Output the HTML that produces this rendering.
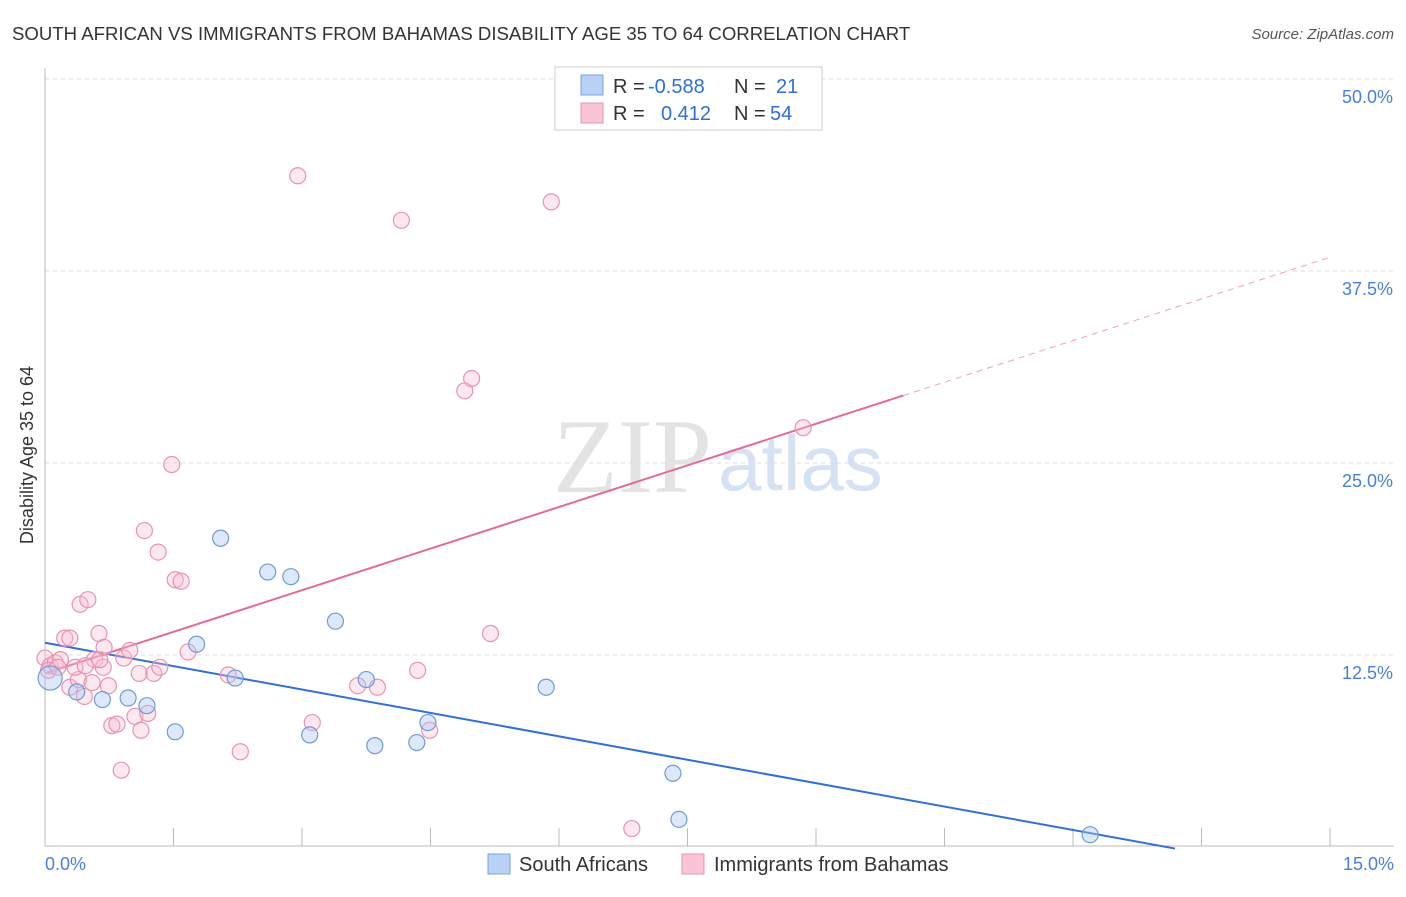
<!DOCTYPE html>
<html><head><meta charset="utf-8"><style>
body{margin:0;background:#fff;font-family:"Liberation Sans",sans-serif}
</style></head><body>
<svg width="1406" height="892" xmlns="http://www.w3.org/2000/svg" font-family="Liberation Sans, sans-serif">
<text x="12" y="40" font-size="18.6" fill="#333">SOUTH AFRICAN VS IMMIGRANTS FROM BAHAMAS DISABILITY AGE 35 TO 64 CORRELATION CHART</text>
<text x="1394" y="39" font-size="15" fill="#555" text-anchor="end" font-style="italic">Source: ZipAtlas.com</text>
<g id="grid"></g>
<g id="axes"></g>
<text x="553" y="492" font-size="106" fill="#e3e3e3" font-family="Liberation Serif, serif">ZIP</text>
<text x="718" y="490" font-size="78" fill="#d6e2f3">atlas</text>
<text transform="translate(33,455) rotate(-90)" font-size="18" fill="#333" text-anchor="middle">Disability Age 35 to 64</text>
<g id="lines"></g>
<g id="pts"></g>
<g>
<rect x="555" y="67" width="267" height="63" fill="#fff" stroke="#ccc"/>
<rect x="581" y="75" width="22" height="20" fill="#b8d1f5" stroke="#7aa3e0"/>
<rect x="581" y="103" width="22" height="20" fill="#f9c5d6" stroke="#e993b0"/>
<text x="613" y="93" font-size="20" fill="#333">R = <tspan x="648" fill="#2f6fd6">-0.588</tspan><tspan x="734">N = </tspan><tspan x="776" fill="#2f6fd6">21</tspan></text>
<text x="613" y="120" font-size="20" fill="#333">R = <tspan x="661" fill="#2f6fd6">0.412</tspan><tspan x="734">N = </tspan><tspan x="770" fill="#2f6fd6">54</tspan></text>
</g>
<g>
<rect x="488" y="854" width="22" height="20" fill="#b8d1f5" stroke="#7aa3e0"/>
<text x="519" y="871" font-size="20" fill="#333">South Africans</text>
<rect x="682" y="854" width="22" height="20" fill="#f9c5d6" stroke="#e993b0"/>
<text x="714" y="871" font-size="20" fill="#333">Immigrants from Bahamas</text>
</g>
</svg>
<script>
const yTicks=[12.5,25,37.5,50];
const yTickLabels=["12.5%","25.0%","37.5%","50.0%"];
const xTickCount=10;
const xTickLabels=["0.0%","15.0%"];
const blueX=[0.06,0.37,0.67,0.97,1.19,1.52,1.77,2.05,2.22,2.60,2.87,3.39,3.09,3.75,3.85,4.34,4.47,5.85,7.33,7.40,12.20];
const blueY=[11.0,10.1,9.6,9.7,9.2,7.5,13.2,20.1,11.0,17.9,17.6,14.7,7.3,10.9,6.6,6.8,8.1,10.4,4.8,1.8,0.8];
const pinkX=[0.0,0.06,0.12,0.18,0.04,0.23,0.29,0.29,0.39,0.41,0.46,0.50,0.55,0.58,0.63,0.68,0.64,0.74,0.69,0.78,0.84,0.89,0.92,0.99,1.05,1.12,1.10,1.16,1.27,1.32,1.34,1.20,1.48,1.52,1.59,1.67,2.14,2.28,2.95,3.12,3.65,3.88,4.16,4.35,4.49,4.90,4.98,5.20,5.91,6.85,8.85,0.35,0.47,0.15];
const pinkY=[12.3,11.8,12.0,12.2,11.5,13.6,13.6,10.4,10.9,15.8,9.8,16.1,10.7,12.2,13.9,11.7,12.2,10.5,13.0,7.9,8.0,5.0,12.3,12.8,8.5,7.6,11.3,20.6,11.3,19.2,11.7,8.7,24.9,17.4,17.3,12.7,11.2,6.2,43.7,8.1,10.5,10.4,40.8,11.5,7.6,29.7,30.5,13.9,42.0,1.2,27.3,11.7,11.8,11.7];
const blueTrend=[13.3,-1.016];
const pinkTrend=[11.3,1.806];
const pinkSolidEnd=10.02;
const X=v=>45+v/15*1285, Y=v=>847-v/12.5*192;
const NS="http://www.w3.org/2000/svg";
function mk(t,a,p){const e=document.createElementNS(NS,t);for(const k in a)e.setAttribute(k,a[k]);p.appendChild(e);return e;}
const grid=document.getElementById('grid'),axes=document.getElementById('axes'),lines=document.getElementById('lines'),pts=document.getElementById('pts');
yTicks.forEach((v,i)=>{
 const l=mk('line',{x1:45,x2:1394,y1:Y(v),y2:Y(v),stroke:'#ddd','stroke-dasharray':'4,4'},grid);
 
 
 const t=mk('text',{x:1393,y:Y(v)+24,'font-size':18,fill:'#4a7fd6','text-anchor':'end'},axes);
 t.textContent=yTickLabels[i];
 
 
});
const ax=mk('line',{x1:45,x2:1394,y1:846,y2:846,stroke:'#bbb'},axes);


const ay=mk('line',{x1:45,x2:45,y1:68,y2:846,stroke:'#bbb'},axes);


for(let i=0;i<=xTickCount;i++){
 const x=X(i*15/xTickCount);
 const tk=mk('line',{x1:x,x2:x,y1:828,y2:846,stroke:'#bbb'},axes);
 
 
}
const xl0=mk('text',{x:45,y:870,'font-size':18,fill:'#4a7fd6'},axes);xl0.textContent=xTickLabels[0];


const xl1=mk('text',{x:1394,y:870,'font-size':18,fill:'#4a7fd6','text-anchor':'end'},axes);xl1.textContent=xTickLabels[1];


pinkX.forEach((x,i)=>{
 const c=mk('circle',{cx:X(x),cy:Y(pinkY[i]),r:8,fill:'rgba(248,190,210,0.35)',stroke:'#e993b0','stroke-width':1.2},pts);
 
 
});
blueX.forEach((x,i)=>{
 const c=mk('circle',{cx:X(x),cy:Y(blueY[i]),r:i==0?12:8,fill:'rgba(170,200,245,0.4)',stroke:'#6f9ad8','stroke-width':1.2},pts);
 
 
});
const bEnd=-blueTrend[0]/blueTrend[1]+0.1;
const bl=mk('line',{x1:X(0),y1:Y(blueTrend[0]),x2:X(bEnd),y2:Y(blueTrend[0]+blueTrend[1]*bEnd),stroke:'#2f6fd6','stroke-width':2},lines);


const pl=mk('line',{x1:X(0),y1:Y(pinkTrend[0]),x2:X(pinkSolidEnd),y2:Y(pinkTrend[0]+pinkTrend[1]*pinkSolidEnd),stroke:'#e56a93','stroke-width':2},lines);


const pd=mk('line',{x1:X(pinkSolidEnd),y1:Y(pinkTrend[0]+pinkTrend[1]*pinkSolidEnd),x2:X(15),y2:Y(pinkTrend[0]+pinkTrend[1]*15),stroke:'#f0a0bb','stroke-width':1,'stroke-dasharray':'6,5'},lines);


</script>
</body></html>
